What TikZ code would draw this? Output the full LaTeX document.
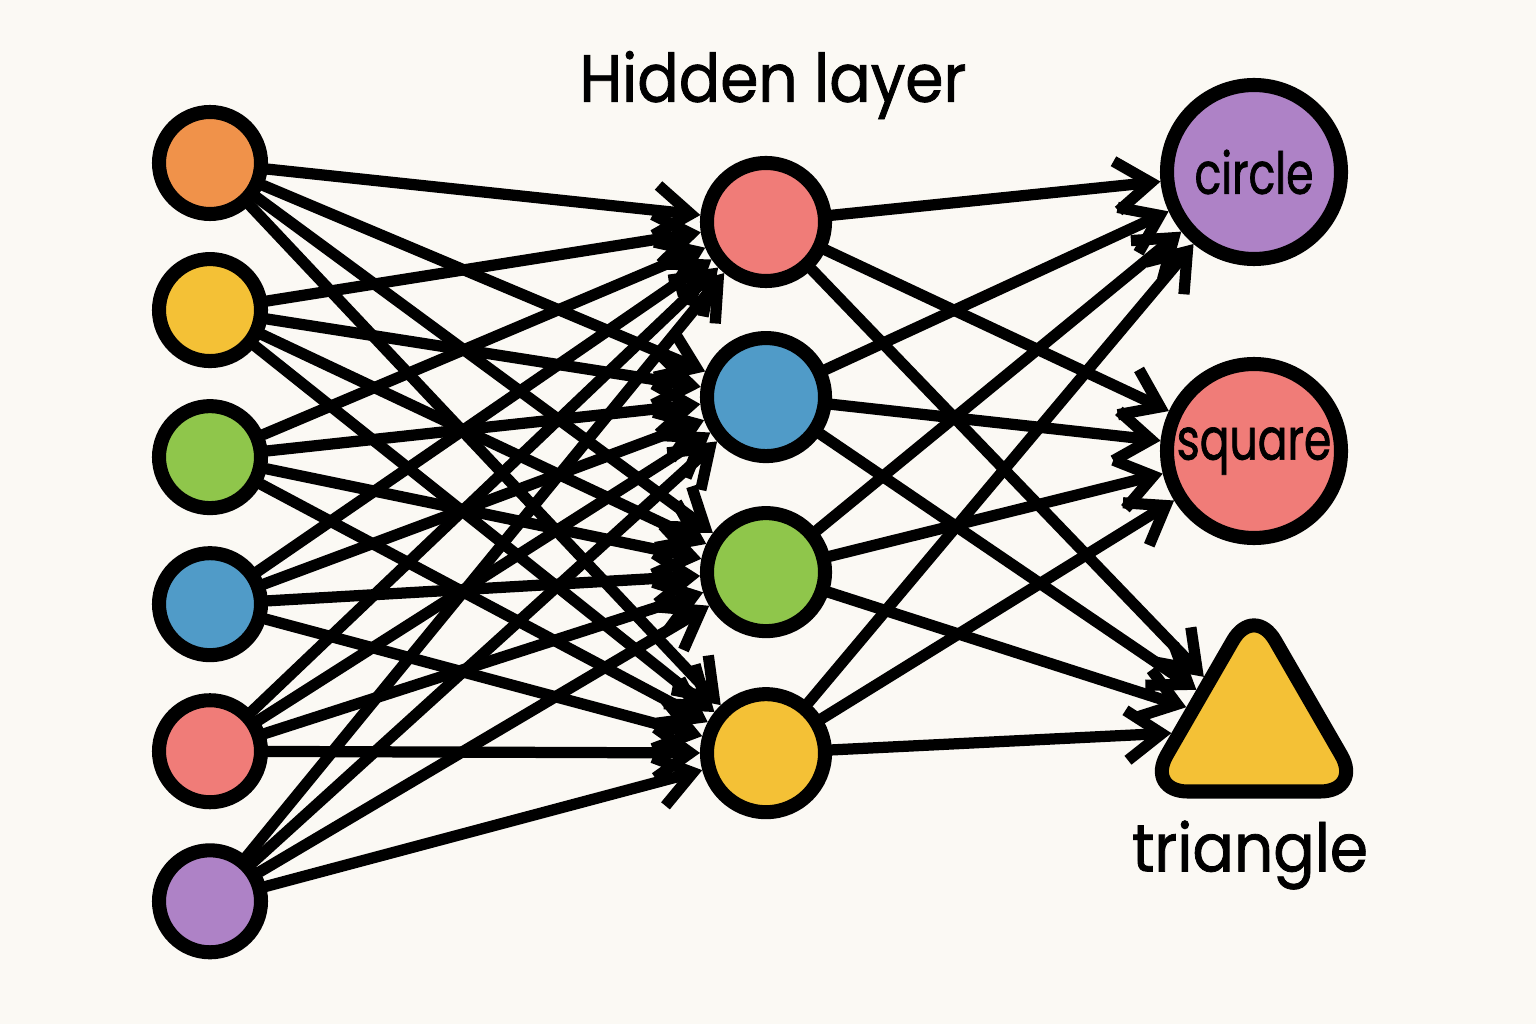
\documentclass[tikz,border=0pt]{standalone}
\usepackage{fontspec}
\setmainfont{Poppins}[FakeStretch=0.92, FakeBold=1.2]
\newfontfamily\tagfont{Poppins}[FakeStretch=0.76, FakeBold=1.2]
\usetikzlibrary{positioning, arrows.meta, shapes.geometric}
\definecolor{paper}{HTML}{FBF9F4}
\definecolor{nnorange}{HTML}{F0924A}
\definecolor{nnyellow}{HTML}{F4C136}
\definecolor{nngreen}{HTML}{8FC64B}
\definecolor{nnblue}{HTML}{509BC8}
\definecolor{nnpink}{HTML}{F07C78}
\definecolor{nnpurple}{HTML}{AE82C6}

\begin{document}
\begin{tikzpicture}[
  node distance=0.31cm,
  every node/.style={font=\fontsize{19}{22}\selectfont},
  neuron/.style={circle, draw=black, line width=4pt, minimum size=1.02cm, inner sep=0pt},
  hidden/.style={neuron, minimum size=1.18cm},
  outnode/.style={neuron, minimum size=1.74cm, font=\tagfont\fontsize{16.5}{19}\selectfont},
  wire/.style={line width=3.2pt, line cap=round, -{Straight Barb[length=3.5mm, width=5mm]}}
]
  \fill[paper] (0,0) rectangle (15.36,10.24);
  \useasboundingbox (0,0) rectangle (15.36,10.24);

  % input layer
  \node[neuron, fill=nnorange] (in1) at (2.10,8.61) {};
  \node[neuron, fill=nnyellow] (in2) [below=of in1] {};
  \node[neuron, fill=nngreen] (in3) [below=of in2] {};
  \node[neuron, fill=nnblue] (in4) [below=of in3] {};
  \node[neuron, fill=nnpink] (in5) [below=of in4] {};
  \node[neuron, fill=nnpurple] (in6) [below=0.34cm of in5] {};

  % hidden layer
  \node (title) at (7.73,9.39) {Hidden layer};
  \node[hidden, fill=nnpink] (hid1) at (7.66,8.02) {};
  \node[hidden, fill=nnblue] (hid2) [below=0.43cm of hid1] {};
  \node[hidden, fill=nngreen] (hid3) [below=0.43cm of hid2] {};
  \node[hidden, fill=nnyellow] (hid4) [below=0.49cm of hid3] {};

  % output layer
  \node[outnode, fill=nnpurple] (circ) at (12.54,8.52) {circle};
  \node[outnode, fill=nnpink] (sq) at (12.54,5.73) {square};
  \node[regular polygon, regular polygon sides=3, draw=black, line width=4pt,
    rounded corners=12pt, minimum size=2.5cm, inner sep=0pt, fill=nnyellow] (tri) at (12.54,2.95) {};
  \node (tritext) at (12.50,1.69) {triangle};

  \foreach \i in {1,...,6}
    \foreach \j in {1,...,4}
      \draw[wire] (in\i) -- (hid\j);
  \foreach \j in {1,...,4}
    \foreach \k in {circ,sq,tri}
      \draw[wire] (hid\j) -- (\k);
\end{tikzpicture}
\end{document}
